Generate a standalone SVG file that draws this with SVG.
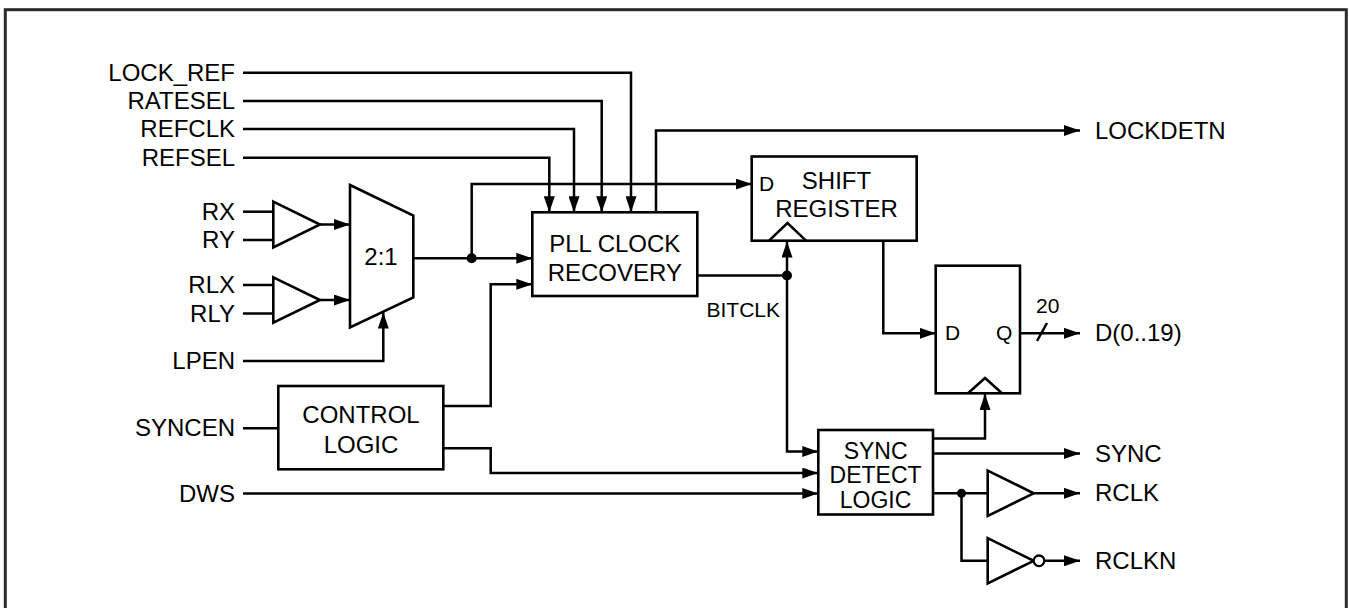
<svg xmlns="http://www.w3.org/2000/svg" width="1349" height="608" viewBox="0 0 1349 608">
<defs>
<marker id="arr" viewBox="0 0 16 11" refX="16" refY="5.5" markerWidth="16" markerHeight="11" markerUnits="userSpaceOnUse" orient="auto">
<path d="M0,0 L16,5.5 L0,11 z" fill="#000"/>
</marker>
<style>
.w{fill:none;stroke:#000;stroke-width:2.5;stroke-linejoin:miter}
.a{marker-end:url(#arr)}
.b{fill:#fff;stroke:#000;stroke-width:2.6}
.t{font-family:"Liberation Sans",Arial,Helvetica,sans-serif;font-size:24px;fill:#000}
.s{font-size:21px}
.e{text-anchor:end}
.m{text-anchor:middle}
.dot{fill:#000}
</style>
</defs>
<rect x="5.3" y="9.7" width="1341" height="640" fill="#fff" stroke="#2b2b2b" stroke-width="3"/>

<g id="labels-in">
<text class="t e" x="235" y="81">LOCK_REF</text>
<text class="t e" x="235" y="109">RATESEL</text>
<text class="t e" x="235" y="137">REFCLK</text>
<text class="t e" x="235" y="166">REFSEL</text>
<text class="t e" x="235" y="220">RX</text>
<text class="t e" x="235" y="248">RY</text>
<text class="t e" x="235" y="293">RLX</text>
<text class="t e" x="235" y="322">RLY</text>
<text class="t e" x="235" y="369">LPEN</text>
<text class="t e" x="235" y="436">SYNCEN</text>
<text class="t e" x="235" y="502">DWS</text>
</g>

<g id="labels-out">
<text class="t" x="1095" y="139">LOCKDETN</text>
<text class="t" x="1095" y="341">D(0..19)</text>
<text class="t" x="1095" y="462">SYNC</text>
<text class="t" x="1095" y="501">RCLK</text>
<text class="t" x="1095" y="569">RCLKN</text>
<text class="t s e" x="780" y="317">BITCLK</text>
<text class="t s" x="1036" y="313">20</text>
</g>

<g id="buf-rx">
<polygon class="b" points="273.3,201.7 320,224.5 273.3,247.3"/>
</g>
<g id="buf-rlx">
<polygon class="b" points="273.3,277.3 320,300 273.3,322.7"/>
</g>
<g id="mux">
<polygon class="b" points="350,185 413.3,215.5 413.3,297.5 350,327.5"/>
<text class="t m" x="381" y="265">2:1</text>
</g>
<g id="control-logic">
<rect class="b" x="278.3" y="386" width="165" height="83.3"/>
<text class="t m" x="361" y="423">CONTROL</text>
<text class="t m" x="361" y="453">LOGIC</text>
</g>
<g id="pll">
<rect class="b" x="532.3" y="212.3" width="165" height="83.7"/>
<text class="t m" x="614.8" y="252">PLL CLOCK</text>
<text class="t m" x="614.8" y="281">RECOVERY</text>
</g>
<g id="shift-register">
<rect class="b" x="751.7" y="156.5" width="165" height="84.2"/>
<text class="t s" x="759" y="191">D</text>
<text class="t m" x="836.5" y="188.5">SHIFT</text>
<text class="t m" x="836.5" y="217">REGISTER</text>
<polyline class="w" points="769,240.7 787.5,223 806,240.7"/>
</g>
<g id="output-register">
<rect class="b" x="935.7" y="265.7" width="84.3" height="127.6"/>
<text class="t s" x="945" y="340">D</text>
<text class="t s" x="996" y="340">Q</text>
<polyline class="w" points="968,393.3 985,378 1002,393.3"/>
</g>
<g id="sync-detect">
<rect class="b" x="818.3" y="430" width="114.7" height="84.5"/>
<text class="t m" style="font-size:23px" x="875.6" y="458.5">SYNC</text>
<text class="t m" style="font-size:23px" x="875.6" y="483">DETECT</text>
<text class="t m" style="font-size:23px" x="875.6" y="508">LOGIC</text>
</g>
<g id="buf-rclk">
<polygon class="b" points="987.7,470.6 1033.7,493.3 987.7,516"/>
</g>
<g id="inv-rclkn">
<polygon class="b" points="987.7,538.2 1033.7,560.8 987.7,583.5"/>
<circle cx="1039" cy="560.8" r="5.3" fill="#fff" stroke="#000" stroke-width="2.3"/>
</g>

<g id="connectors">
<polyline class="w a" points="243,72.7 631,72.7 631,212.3"/>
<polyline class="w a" points="243,101 601.7,101 601.7,212.3"/>
<polyline class="w a" points="243,129 574,129 574,212.3"/>
<polyline class="w a" points="243,157.7 549.3,157.7 549.3,212.3"/>
<line class="w" x1="243" y1="211.7" x2="273.3" y2="211.7"/>
<line class="w" x1="243" y1="240" x2="273.3" y2="240"/>
<line class="w" x1="243" y1="285" x2="273.3" y2="285"/>
<line class="w" x1="243" y1="313.5" x2="273.3" y2="313.5"/>
<line class="w a" x1="320" y1="224.5" x2="350" y2="224.5"/>
<line class="w a" x1="320" y1="300" x2="350" y2="300"/>
<polyline class="w a" points="243,361 383.3,361 383.3,312.5"/>
<line class="w a" x1="413.3" y1="258.3" x2="532.3" y2="258.3"/>
<polyline class="w a" points="471.7,258.3 471.7,184 751.7,184"/>
<circle class="dot" cx="471.7" cy="258.3" r="5"/>
<line class="w" x1="243" y1="428.3" x2="278.3" y2="428.3"/>
<polyline class="w a" points="443.3,406 490.7,406 490.7,284.3 532.3,284.3"/>
<polyline class="w a" points="443.3,448.3 490.7,448.3 490.7,473 818.3,473"/>
<line class="w a" x1="243" y1="493.5" x2="818.3" y2="493.5"/>
<polyline class="w a" points="656,212.3 656,130.5 1080,130.5"/>
<line class="w" x1="697.3" y1="275.5" x2="787" y2="275.5"/>
<line class="w a" x1="787" y1="275.5" x2="787" y2="241.5"/>
<polyline class="w a" points="787,275.5 787,451.5 818.3,451.5"/>
<circle class="dot" cx="787" cy="275.5" r="5"/>
<polyline class="w a" points="883.3,240.7 883.3,333.3 935.7,333.3"/>
<line class="w a" x1="1020" y1="333.3" x2="1080" y2="333.3"/>
<line class="w" x1="1037" y1="341" x2="1047" y2="323"/>
<polyline class="w a" points="933,438.5 985,438.5 985,394"/>
<line class="w a" x1="933" y1="453.5" x2="1080" y2="453.5"/>
<line class="w" x1="933" y1="493.3" x2="987.7" y2="493.3"/>
<polyline class="w" points="961.5,493.3 961.5,560.8 987.7,560.8"/>
<circle class="dot" cx="961.5" cy="493.3" r="4.5"/>
<line class="w a" x1="1033.7" y1="493.3" x2="1080" y2="493.3"/>
<line class="w a" x1="1044.3" y1="560.8" x2="1080" y2="560.8"/>
</g>
</svg>
